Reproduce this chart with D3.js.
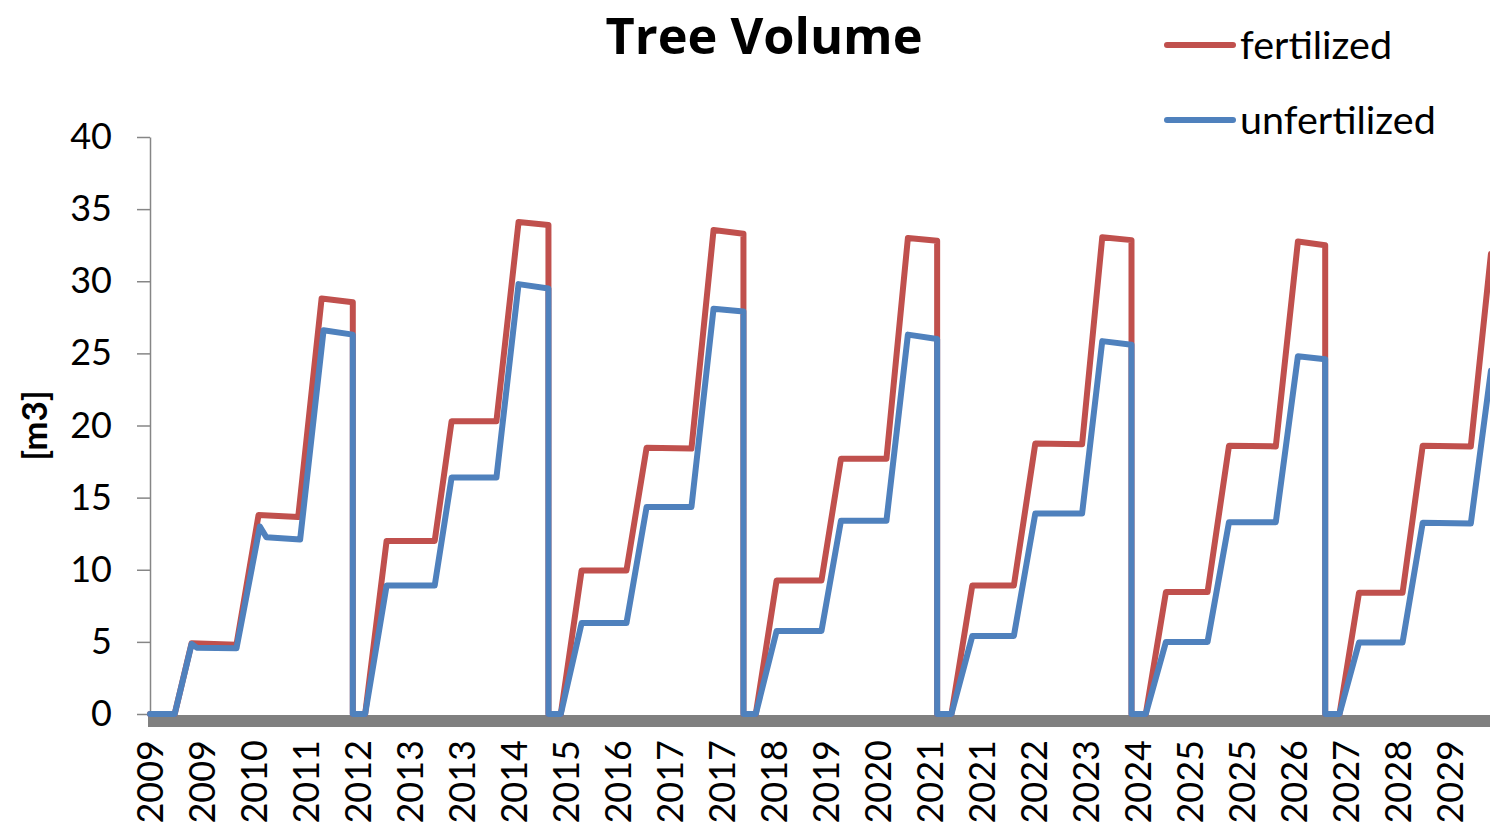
<!DOCTYPE html>
<html>
<head>
<meta charset="utf-8">
<script src="https://cdn.jsdelivr.net/npm/d3@7/dist/d3.min.js"></script>
<style>
  html, body { margin: 0; padding: 0; background: #ffffff; overflow: hidden; }
  svg { display: block; }
</style>
</head>
<body>
<svg id="chart" width="1490" height="829"></svg>
<script>
// Category ticks along the time axis (fractional year) and their labels
const timeTicks = [2009.0, 2009.8, 2010.6, 2011.4, 2012.2, 2013.0, 2013.8, 2014.6, 2015.4,
  2016.2, 2017.0, 2017.8, 2018.6, 2019.4, 2020.2, 2021.0, 2021.8, 2022.6, 2023.4, 2024.2,
  2025.0, 2025.8, 2026.6, 2027.4, 2028.2, 2029.0];
const tickLabels = ["2009", "2009", "2010", "2011", "2012", "2013", "2013", "2014", "2015",
  "2016", "2017", "2017", "2018", "2019", "2020", "2021", "2021", "2022", "2023", "2024",
  "2025", "2025", "2026", "2027", "2028", "2029"];
const volumeTicks = [0, 5, 10, 15, 20, 25, 30, 35, 40];

// Tree volume [m3] over time: [year, volume]
const fertilized = [
  [2009.00, 0], [2009.38, 0], [2009.64, 4.9], [2010.33, 4.8], [2010.67, 13.8], [2011.28, 13.65],
  [2011.64, 28.8], [2012.12, 28.55], [2012.12, 0],
  [2012.31, 0], [2012.64, 12.0], [2013.38, 12.0], [2013.64, 20.3], [2014.33, 20.3],
  [2014.67, 34.1], [2015.13, 33.9], [2015.13, 0],
  [2015.32, 0], [2015.64, 9.95], [2016.33, 9.95], [2016.64, 18.45], [2017.33, 18.4],
  [2017.67, 33.55], [2018.13, 33.3], [2018.13, 0],
  [2018.32, 0], [2018.64, 9.25], [2019.33, 9.25], [2019.63, 17.7], [2020.33, 17.7],
  [2020.66, 33.0], [2021.11, 32.8], [2021.11, 0],
  [2021.33, 0], [2021.65, 8.9], [2022.29, 8.9], [2022.62, 18.75], [2023.34, 18.7],
  [2023.65, 33.05], [2024.10, 32.85], [2024.10, 0],
  [2024.32, 0], [2024.63, 8.45], [2025.27, 8.45], [2025.60, 18.6], [2026.32, 18.55],
  [2026.66, 32.75], [2027.08, 32.5], [2027.08, 0],
  [2027.30, 0], [2027.60, 8.4], [2028.27, 8.4], [2028.58, 18.6], [2029.32, 18.55],
  [2029.63, 31.9]
];
const unfertilized = [
  [2009.00, 0], [2009.38, 0], [2009.64, 4.85], [2009.72, 4.6], [2010.33, 4.55], [2010.69, 13.0],
  [2010.79, 12.25], [2011.31, 12.1], [2011.67, 26.6], [2012.12, 26.3], [2012.12, 0],
  [2012.31, 0], [2012.64, 8.9], [2013.38, 8.9], [2013.64, 16.4], [2014.33, 16.4],
  [2014.67, 29.8], [2015.13, 29.5], [2015.13, 0],
  [2015.32, 0], [2015.64, 6.3], [2016.33, 6.3], [2016.64, 14.35], [2017.33, 14.35],
  [2017.67, 28.1], [2018.13, 27.9], [2018.13, 0],
  [2018.32, 0], [2018.64, 5.75], [2019.33, 5.75], [2019.63, 13.4], [2020.33, 13.4],
  [2020.66, 26.3], [2021.11, 26.0], [2021.11, 0],
  [2021.33, 0], [2021.65, 5.4], [2022.29, 5.4], [2022.62, 13.9], [2023.34, 13.9],
  [2023.65, 25.85], [2024.10, 25.6], [2024.10, 0],
  [2024.32, 0], [2024.63, 5.0], [2025.27, 5.0], [2025.60, 13.3], [2026.32, 13.3],
  [2026.66, 24.8], [2027.08, 24.6], [2027.08, 0],
  [2027.30, 0], [2027.60, 4.95], [2028.27, 4.95], [2028.58, 13.25], [2029.32, 13.2],
  [2029.63, 23.8]
];
const seriesNames = ["fertilized", "unfertilized"];

const colors = { fertilized: "#C0504D", unfertilized: "#4F81BD" };
const font = "Lato, 'Open Sans', sans-serif";

const svg = d3.select("#chart");
const W = 1490;

const x = d3.scaleLinear().domain([2009, 2029]).range([150, 1450]);
const y = d3.scaleLinear().domain([0, 40]).range([714, 137]);

// Title
svg.append("text")
  .attr("x", 764).attr("y", 54)
  .attr("text-anchor", "middle")
  .attr("font-family", "'Open Sans', Lato, sans-serif").attr("font-weight", 700).attr("font-size", 50.5)
  .attr("fill", "#000")
  .text("Tree Volume");

// Y axis
const yAxis = svg.append("g")
  .attr("transform", `translate(${x(2009)},0)`)
  .call(d3.axisLeft(y).tickValues(volumeTicks).tickSize(13).tickSizeOuter(0).tickPadding(25));
yAxis.select(".domain").attr("stroke", "#868686").attr("stroke-width", 1.5);
yAxis.selectAll(".tick line").attr("stroke", "#868686").attr("stroke-width", 1.5);
yAxis.selectAll(".tick text")
  .attr("font-family", font).attr("font-size", 36).attr("fill", "#000");

// Y axis title
svg.append("text")
  .attr("transform", `translate(47, ${y(20)}) rotate(-90)`)
  .attr("text-anchor", "middle")
  .attr("font-family", font).attr("font-weight", 700).attr("font-size", 35)
  .attr("fill", "#000")
  .text("[m3]");

// Thick horizontal axis band at zero
svg.append("rect")
  .attr("x", x(2009) - 2).attr("y", y(0) + 1)
  .attr("width", W - x(2009) + 2).attr("height", 12)
  .attr("fill", "#808080");

// X axis labels, rotated
const xAxis = svg.append("g")
  .attr("transform", `translate(0,${y(0)})`)
  .call(d3.axisBottom(x).tickValues(timeTicks)
    .tickFormat((d, i) => tickLabels[i]).tickSize(0).tickSizeOuter(0));
xAxis.select(".domain").remove();
xAxis.selectAll(".tick text")
  .attr("transform", "rotate(-90)")
  .attr("x", -26).attr("y", 0).attr("dy", "0.36em")
  .attr("text-anchor", "end")
  .attr("font-family", font).attr("font-size", 36).attr("fill", "#000");

// Series lines
const line = d3.line().x(d => x(d[0])).y(d => y(d[1]));
const seriesData = { fertilized, unfertilized };
svg.append("g").selectAll("path")
  .data(seriesNames)
  .join("path")
  .attr("d", k => line(seriesData[k]))
  .attr("fill", "none")
  .attr("stroke", k => colors[k])
  .attr("stroke-width", 6)
  .attr("stroke-linejoin", "round")
  .attr("stroke-linecap", "round");

// Legend
const legend = svg.append("g").selectAll("g")
  .data(seriesNames)
  .join("g")
  .attr("transform", (k, i) => `translate(1167, ${45 + i * 75})`);
legend.append("line")
  .attr("x1", 0).attr("x2", 66).attr("y1", 0).attr("y2", 0)
  .attr("stroke", k => colors[k]).attr("stroke-width", 6).attr("stroke-linecap", "round");
legend.append("text")
  .attr("x", 73).attr("y", 0).attr("dy", "0.36em")
  .attr("font-family", font).attr("font-size", 39.5).attr("fill", "#000")
  .text(k => k);
</script>
</body>
</html>
